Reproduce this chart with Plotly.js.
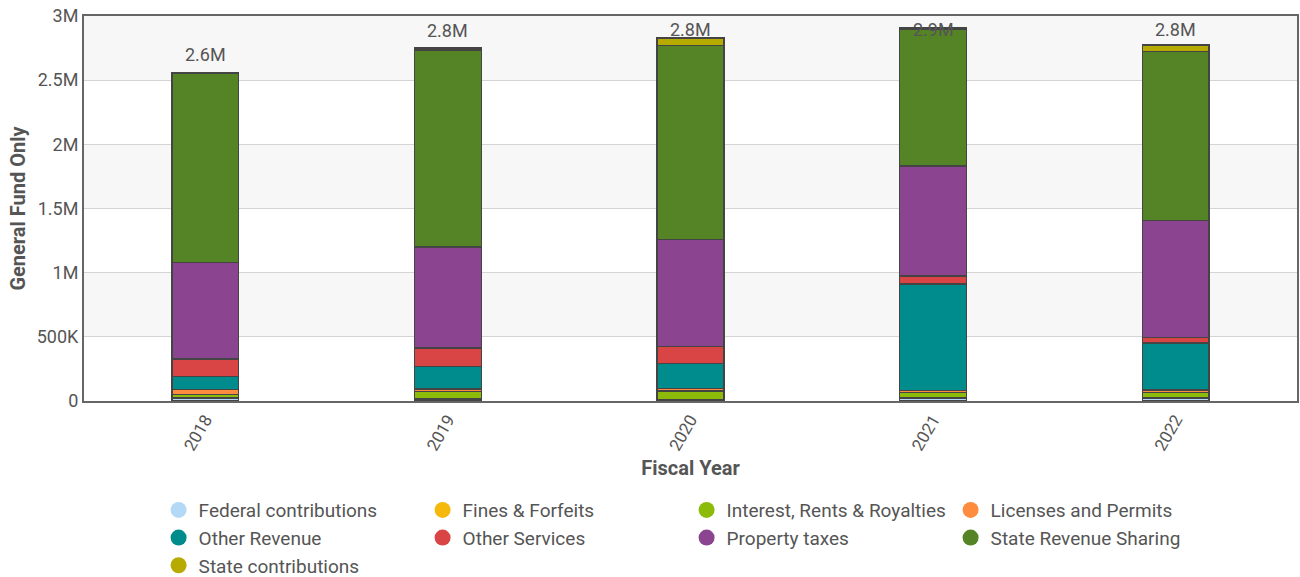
<!DOCTYPE html>
<html>
<head>
<meta charset="utf-8">
<script src="https://cdn.plot.ly/plotly-3.0.1.min.js"></script>
<style>html,body{margin:0;padding:0;background:#fff;}#chart{width:1300px;height:577px;}</style>
</head>
<body>
<div id="chart"></div>
<script>
const years = ["2018", "2019", "2020", "2021", "2022"];
const seriesNames = ["Federal contributions", "Fines & Forfeits", "Interest, Rents & Royalties", "Licenses and Permits", "Other Revenue", "Other Services", "Property taxes", "State Revenue Sharing", "State contributions"];
const federal      = [21000, 16000, 8000, 20000, 18000];
const fines        = [5000, 4000, 3000, 3000, 4000];
const interest     = [26000, 55000, 68000, 42000, 42000];
const licenses     = [36000, 20000, 18000, 16000, 23000];
const otherRevenue = [101000, 175000, 197000, 831000, 366000];
const otherServices= [138000, 144000, 130000, 62000, 43000];
const propertyTax  = [750000, 787000, 834000, 857000, 912000];
const stateRevShare= [1480000, 1535000, 1512000, 1068000, 1317000];
const stateContrib = [5000, 16000, 58000, 12000, 50000];
const yTickVals = [0, 500000, 1000000, 1500000, 2000000, 2500000, 3000000];
const yTickText = ["0", "500K", "1M", "1.5M", "2M", "2.5M", "3M"];

const seriesValues = [federal, fines, interest, licenses, otherRevenue, otherServices, propertyTax, stateRevShare, stateContrib];
const colors = ["#b3d9f7", "#f5b90c", "#8cbb0a", "#fd8c3f", "#008c8c", "#d94545", "#8a4490", "#558427", "#b7aa00"];

const traces = [];
seriesNames.forEach((name, i) => {
  traces.push({
    type: "bar", name: name, x: years, y: seriesValues[i],
    marker: {color: colors[i], line: {color: "#444", width: 1.4}},
    width: 0.275, showlegend: false, hoverinfo: "x+y+name"
  });
});
seriesNames.forEach((name, i) => {
  traces.push({
    type: "scatter", mode: "markers", name: name, x: [null], y: [null],
    marker: {color: colors[i], size: 16, symbol: "circle"}, showlegend: true
  });
});

const totals = years.map((_, j) => seriesValues.reduce((s, arr) => s + arr[j], 0));
const annotations = totals.map((t, j) => ({
  x: j, xref: "x", yref: "y", y: Math.min(t + 40000, 2800000), yanchor: "bottom", xanchor: "center",
  text: (t / 1e6).toFixed(1) + "M", showarrow: false,
  font: {size: 18, color: "#555"}
}));

const shapes = [];
for (let k = 0; k < yTickVals.length - 1; k++) {
  if (k % 2 === 1) {
    shapes.push({type: "rect", xref: "paper", yref: "y", x0: 0, x1: 1,
      y0: yTickVals[k], y1: yTickVals[k + 1], fillcolor: "#f7f7f7", line: {width: 0}, layer: "below"});
  }
}

const layout = {
  width: 1300, height: 577,
  margin: {l: 84, r: 3, t: 16, b: 176, autoexpand: false},
  barmode: "stack",
  paper_bgcolor: "#fff", plot_bgcolor: "rgba(0,0,0,0)",
  font: {family: "Roboto, 'Liberation Sans', sans-serif", color: "#555"},
  xaxis: {
    type: "category", categoryorder: "array", categoryarray: years,
    range: [-0.5, 4.5], autorange: false,
    tickangle: -60, showline: true, mirror: true,
    linecolor: "#666", linewidth: 2, ticks: "", showgrid: false,
    tickfont: {size: 17, color: "#555"},
    title: {text: "<b>Fiscal Year</b>", font: {size: 20, color: "#555"}, standoff: 8}
  },
  yaxis: {
    range: [0, 3000000], autorange: false, tickvals: yTickVals, ticktext: yTickText,
    showline: true, mirror: true, linecolor: "#666", linewidth: 2,
    gridcolor: "#d4d4d4", gridwidth: 1, zeroline: false, ticks: "",
    tickfont: {size: 18, color: "#555"},
    title: {text: "<b>General Fund Only</b>", font: {size: 20, color: "#555"}, standoff: 6}
  },
  legend: {
    orientation: "h", x: 0.0615, xanchor: "left", y: -0.478, yanchor: "bottom",
    font: {size: 19, color: "#555"}, entrywidth: 219, entrywidthmode: "pixels",
    traceorder: "normal", itemclick: false, tracegroupgap: 0
  },
  annotations: annotations,
  shapes: shapes,
  showlegend: true
};

Plotly.newPlot("chart", traces, layout, {displayModeBar: false, staticPlot: true});
</script>
</body>
</html>
